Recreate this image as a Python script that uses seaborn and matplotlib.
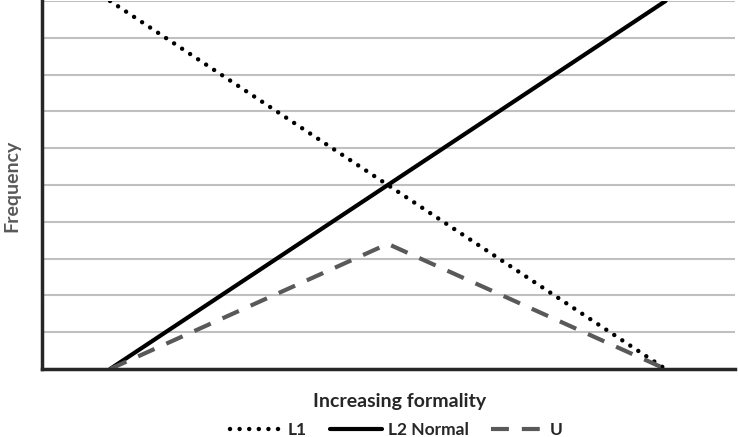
import pandas as pd
import matplotlib
matplotlib.use('Agg')
import matplotlib.pyplot as plt
import seaborn as sns

# data (y on a 0-10 grid)
positions = [1, 2, 3]
l1_values = [10, 5, 0]
l2_values = [0, 5, 10]
u_values = [0, 3.4, 0]
series_names = ['L1', 'L2 Normal', 'U']

df = pd.DataFrame({
    'x': positions * 3,
    'y': l1_values + l2_values + u_values,
    'series': [s for s in series_names for _ in positions],
})

sns.set_style('white')
plt.rcParams['font.family'] = ['Lato', 'DejaVu Sans']

fig = plt.figure(figsize=(7.38, 4.37), dpi=100)
ax = fig.add_axes([42 / 738, 68 / 437, 693 / 738, 368 / 437])

styles = {
    'L1': dict(color='black', linestyle=(0, (0.01, 2.15)), dash_capstyle='round', linewidth=3.2),
    'L2 Normal': dict(color='black', linestyle='-', linewidth=3),
    'U': dict(color='#595959', linestyle=(0, (4.3, 3.1)), dash_capstyle='butt', linewidth=3),
}
for name in series_names:
    sub = df[df['series'] == name]
    sns.lineplot(x='x', y='y', data=sub, ax=ax, label=name, **styles[name])

ax.set_xlim(0.755, 3.25)
ax.set_ylim(0, 10)
ax.set_yticks(range(0, 11))
ax.set_xticks([])
ax.yaxis.grid(True, color='#c0c0c0', linewidth=1.5)
ax.set_axisbelow(True)
ax.tick_params(left=False, labelleft=False)
for side in ['top', 'right']:
    ax.spines[side].set_visible(False)
for side in ['left', 'bottom']:
    ax.spines[side].set_color('#262626')
    ax.spines[side].set_linewidth(2.5)

ax.set_xlabel('')
ax.set_ylabel('')
fig.text(400 / 738, 1 - 402 / 437, 'Increasing formality', ha='center', va='center',
         fontsize=14, fontweight='bold', color='#262626')
fig.text(12 / 738, 1 - 186 / 437, 'Frequency', ha='center', va='center', rotation=90,
         fontsize=14, fontweight='bold', color='#595959')

ax.legend_.remove()
handles, labels = ax.get_legend_handles_labels()
fig.legend(handles, labels, loc='center', bbox_to_anchor=(396 / 738, 1 - 430 / 437), ncol=3,
           frameon=False, handlelength=3.0, columnspacing=1.3, handletextpad=0.35,
           prop={'weight': 'bold', 'size': 12.5})
for t in fig.legends[0].get_texts():
    t.set_color('#262626')

fig.savefig('out.png', dpi=100)
